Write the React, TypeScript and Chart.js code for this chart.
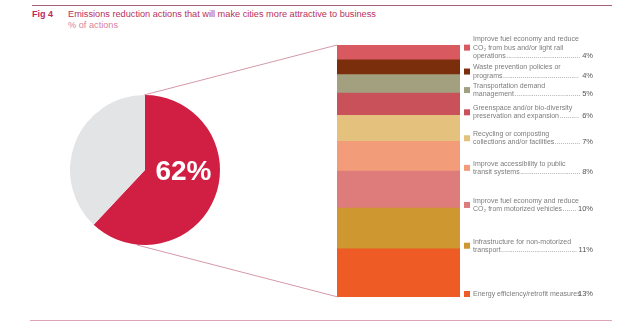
import React, { useEffect, useRef } from "react";
import { Chart, registerables } from "chart.js";

Chart.register(...registerables);

// ---- Data (legend order, top to bottom) ----
const categories = [
  "Improve fuel economy and reduce CO₂ from bus and/or light rail operations",
  "Waste prevention policies or programs",
  "Transportation demand management",
  "Greenspace and/or bio-diversity preservation and expansion",
  "Recycling or composting collections and/or facilities",
  "Improve accessibility to public transit systems",
  "Improve fuel economy and reduce CO₂ from motorized vehicles",
  "Infrastructure for non-motorized transport",
  "Energy efficiency/retrofit measures",
];
const legendLines: string[][] = [
  ["Improve fuel economy and reduce", "CO₂ from bus and/or light rail", "operations"],
  ["Waste prevention policies or", "programs"],
  ["Transportation demand", "management"],
  ["Greenspace and/or bio-diversity", "preservation and expansion"],
  ["Recycling or composting", "collections and/or facilities"],
  ["Improve accessibility to public", "transit systems"],
  ["Improve fuel economy and reduce", "CO₂ from motorized vehicles"],
  ["Infrastructure for non-motorized", "transport"],
  ["Energy efficiency/retrofit measures"],
];
const values = [4, 4, 5, 6, 7, 8, 10, 11, 13];
const colors = [
  "#D85A60",
  "#7A2E0C",
  "#A3A07F",
  "#C9525A",
  "#E4C27E",
  "#F39C79",
  "#DE7C7C",
  "#CF972F",
  "#EE5B24",
];
const pieLabels = ["Cities more attractive to business", "Other"];
const pieValues = [62, 38];
const pieColors = ["#D11F44", "#E3E4E6"];
const pieLabelText = "62%";

const FONT = "'Liberation Sans', Arial, Helvetica, sans-serif";

// layout
const PIE_LEFT = 70;
const PIE_TOP = 95;
const PIE_SIZE = 150;

export default function App() {
  const barRef = useRef<HTMLCanvasElement | null>(null);
  const pieRef = useRef<HTMLCanvasElement | null>(null);

  useEffect(() => {
    if (!barRef.current || !pieRef.current) return;
    const total = values.reduce((a, b) => a + b, 0);
    const n = values.length;
    // bottom-first for stacking
    const order = [...Array(n).keys()].reverse();

    const legendPlugin = {
      id: "sideLegend",
      afterDraw(chart: any) {
        const ctx = chart.ctx;
        const area = chart.chartArea;
        ctx.save();
        // connector lines
        ctx.strokeStyle = "#C97F90";
        ctx.lineWidth = 0.8;
        ctx.beginPath();
        ctx.moveTo(PIE_LEFT + PIE_SIZE / 2 - 1, PIE_TOP);
        ctx.lineTo(area.left, area.top);
        ctx.moveTo(PIE_LEFT + PIE_SIZE / 2 - 8, PIE_TOP + PIE_SIZE);
        ctx.lineTo(area.left + 1, area.bottom);
        ctx.stroke();

        const textX = area.right + 13;
        const pctRight = area.right + 133;
        const lineH = 8.2;
        chart.data.datasets.forEach((ds: any, di: number) => {
          const idx = ds.srcIndex as number;
          const el = chart.getDatasetMeta(di).data[0];
          const lines = legendLines[idx];
          let lastY = el.base + 1;
          if (idx === 0) lastY = el.base - 4;
          if (lines.length === 1) lastY = el.base - 3;
          const firstY = lastY - (lines.length - 1) * lineH;
          const midY = (firstY + lastY) / 2;
          ctx.fillStyle = colors[idx];
          ctx.fillRect(area.right + 4, midY - 3, 6, 6);
          ctx.font = `7px ${FONT}`;
          ctx.fillStyle = "#7C7C7C";
          ctx.textBaseline = "middle";
          ctx.textAlign = "left";
          lines.forEach((t, li) => {
            ctx.fillText(t, textX, firstY + li * lineH);
          });
          const pct = `${values[idx]}%`;
          ctx.font = `7.5px ${FONT}`;
          const pw = ctx.measureText(pct).width;
          ctx.font = `7px ${FONT}`;
          const lastW = ctx.measureText(lines[lines.length - 1]).width;
          const dotsStart = textX + lastW + 0.5;
          const dotsEnd = pctRight - pw - 1.5;
          const dw = ctx.measureText(".").width;
          if (dotsEnd > dotsStart) {
            const cnt = Math.floor((dotsEnd - dotsStart) / dw);
            ctx.fillText(".".repeat(cnt), dotsStart, lastY);
          }
          ctx.font = `7.5px ${FONT}`;
          ctx.fillStyle = "#555555";
          ctx.textAlign = "right";
          ctx.fillText(pct, pctRight, lastY);
        });
        ctx.restore();
      },
    };

    const bar = new Chart(barRef.current, {
      type: "bar",
      data: {
        labels: ["actions"],
        datasets: order.map((i) => ({
          label: categories[i],
          data: [values[i]],
          backgroundColor: colors[i],
          borderWidth: 0,
          barPercentage: 1,
          categoryPercentage: 1,
          srcIndex: i,
        })) as any,
      },
      options: {
        animation: false,
        responsive: false,
        maintainAspectRatio: false,
        layout: { padding: { left: 337, right: 180, top: 45, bottom: 32 } },
        scales: {
          x: { stacked: true, display: false },
          y: { stacked: true, display: false, min: 0, max: total },
        },
        plugins: { legend: { display: false }, tooltip: { enabled: false } },
      },
      plugins: [legendPlugin],
    });

    const pieLabelPlugin = {
      id: "pieLabel",
      afterDraw(chart: any) {
        const ctx = chart.ctx;
        const el = chart.getDatasetMeta(0).data[0];
        ctx.save();
        ctx.font = `bold 28px ${FONT}`;
        ctx.fillStyle = "#FFFFFF";
        ctx.textAlign = "center";
        ctx.textBaseline = "middle";
        ctx.fillText(pieLabelText, el.x + 38.5, el.y + 2);
        ctx.restore();
      },
    };

    const pie = new Chart(pieRef.current, {
      type: "pie",
      data: {
        labels: pieLabels,
        datasets: [
          {
            data: pieValues,
            backgroundColor: pieColors,
            borderWidth: 0,
          },
        ],
      },
      options: {
        animation: false,
        responsive: false,
        maintainAspectRatio: false,
        layout: { padding: 0 },
        plugins: { legend: { display: false }, tooltip: { enabled: false } },
      },
      plugins: [pieLabelPlugin],
    });

    return () => {
      bar.destroy();
      pie.destroy();
    };
  }, []);

  return (
    <div
      style={{
        position: "fixed",
        left: 0,
        top: 0,
        width: 640,
        height: 329,
        background: "#FFFFFF",
        fontFamily: FONT,
        overflow: "hidden",
      }}
    >
      <div style={{ position: "absolute", left: 32, top: 4.5, width: 580, height: 1, background: "#A8607A" }} />
      <div
        style={{
          position: "absolute",
          left: 32,
          top: 9,
          fontSize: 9,
          fontWeight: "bold",
          color: "#C0285A",
          lineHeight: "11px",
        }}
      >
        Fig 4
      </div>
      <div
        style={{
          position: "absolute",
          left: 68,
          top: 9,
          fontSize: 9.2,
          color: "#B8305E",
          lineHeight: "10px",
          whiteSpace: "nowrap",
        }}
      >
        Emissions reduction actions that will make cities more attractive to business
      </div>
      <div
        style={{
          position: "absolute",
          left: 68,
          top: 19.5,
          fontSize: 9.2,
          color: "#D9829C",
          lineHeight: "10px",
          whiteSpace: "nowrap",
        }}
      >
        % of actions
      </div>
      <canvas
        ref={barRef}
        width={640}
        height={329}
        style={{ position: "absolute", left: 0, top: 0, width: 640, height: 329 }}
      />
      <canvas
        ref={pieRef}
        width={PIE_SIZE}
        height={PIE_SIZE}
        style={{ position: "absolute", left: PIE_LEFT, top: PIE_TOP, width: PIE_SIZE, height: PIE_SIZE }}
      />
      <div style={{ position: "absolute", left: 30, top: 320, width: 582, height: 1, background: "#DDA5B5" }} />
    </div>
  );
}
